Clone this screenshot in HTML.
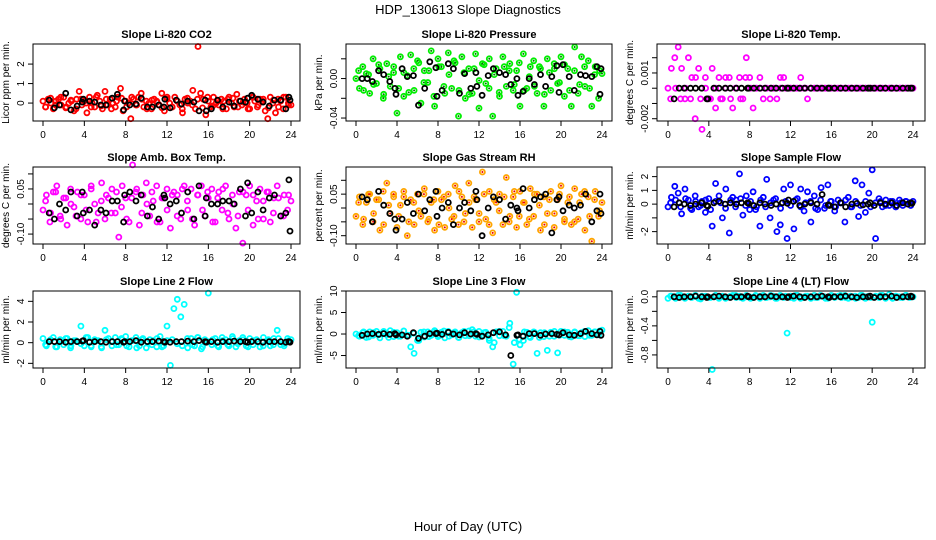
<!DOCTYPE html>
<html><head><meta charset="utf-8"><style>
body{margin:0;background:#fff;}
svg{display:block;font-family:"Liberation Sans",sans-serif;}
</style></head><body>
<svg id="chart" width="936" height="540" xmlns="http://www.w3.org/2000/svg">
<rect width="936" height="540" fill="#fff"/>
<text x="468" y="14" text-anchor="middle" font-size="13">HDP_130613  Slope Diagnostics</text>
<text x="468" y="531" text-anchor="middle" font-size="13">Hour of Day (UTC)</text>
</svg>
<script>
const xTicks=[0,4,8,12,16,20,24];
const blackHours=[0.6,1.1,1.6,2.2,2.7,3.3,3.8,3.9,4.5,5.0,5.6,6.1,6.7,7.2,7.8,7.9,8.4,9.0,9.5,10.1,10.6,11.2,11.7,11.8,12.3,12.9,13.4,14.0,14.6,15.1,15.7,15.8,16.3,16.9,17.4,18.0,18.5,19.1,19.6,19.8,20.2,20.8,21.3,21.9,22.4,23.0,23.5,23.8,23.9];

const co2Color=[0.1,-0.2,0.2,0,-0.3,0.1,0.2,-0.1,0.3,-0.2,0,0.1,-0.4,0.2,0.6,-0.1,0.1,-0.5,0.3,0,-0.2,0.4,0.1,-0.3,0.6,-0.1,0.2,0,-0.2,0.3,0.75,-0.4,0.1,0,-0.8,0.2,-0.1,0.3,0.5,-0.2,0.1,0,-0.3,0.2,0.1,-0.1,0.5,-0.4,0.2,0,-0.2,0.3,0.1,-0.1,-0.5,0.2,0,0.1,0.65,-0.3,2.9,0.5,0.2,-0.6,0.1,-0.2,0.3,0,-0.1,0.2,0.1,-0.3,0.3,0,-0.2,0.45,0.1,-0.1,0.2,0,-0.3,0.3,0.1,-0.2,0.2,0.1,-0.4,-0.8,0.3,0,-0.5,0.2,0.1,-0.3,0.3,0,-0.1];
const co2Band=[-0.2,0.25,-0.1,0.3,-0.25,0.15,-0.3,0.2,0,-0.2,0.3,-0.15,0.2,-0.3,0.1,0.25,-0.2,0.3,-0.1,0.2,-0.3,0.15,0.05,-0.25,0.3,-0.2,0.1,-0.3,0.25,-0.1,0.2,-0.25,0.3,-0.15,0.1,-0.3,0.2,0.25,-0.2,0.05,-0.3,0.3,-0.1,0.2,-0.25,0.15,-0.2,0.3,-0.1];
const co2Black=[0.15,-0.25,-0.1,0.5,-0.35,-0.15,0.05,0.2,0.1,0.05,-0.1,-0.1,0.25,0.45,-0.35,0.1,-0.1,-0.05,0.25,-0.2,-0.2,-0.1,-0.2,0.2,-0.25,0.15,-0.05,0.1,0.05,-0.4,0.15,-0.4,-0.3,0.15,-0.2,0.05,-0.15,0.1,0.05,0.25,0.4,0.2,0.05,-0.15,0.15,0.15,-0.3,0.3,0.15];
const co2Ticks=[0,1,2];

const presColor=[0,-0.01,0.012,0.005,-0.015,0.02,-0.005,0.01,-0.02,0.015,-0.008,0.006,-0.035,0.022,-0.018,0.003,0.024,-0.012,0.018,-0.025,0.008,-0.004,0.028,-0.028,0.02,0.012,-0.015,0.026,-0.01,0.016,-0.038,0.022,-0.02,0.01,-0.015,0.025,-0.03,0.015,-0.005,0.02,-0.038,0.01,-0.018,0.022,-0.008,0.015,-0.012,0.008,-0.028,0.025,-0.01,0.012,0.018,-0.015,0.01,-0.028,0.02,-0.012,0.015,-0.005,0.022,-0.018,0.01,-0.028,0.032,-0.015,0.022,-0.008,0.018,-0.028,0.012,-0.02,0.005];
const presBand=[0.008,-0.012,0.004,-0.006,0.014,-0.016,0.002,0.012,-0.01,0.006,-0.014,0.01,0.016,-0.004,0.008,-0.018,0.012,-0.008,0.004,0.018,-0.012,0.006,-0.016,0.01,-0.002,0.014,-0.01,0.004,-0.014,0.012,0.008,-0.006,0.016,-0.012,0.002,-0.008,0.012,-0.016,0.006,0.01,-0.004,0.014,-0.012,0.008,-0.006,0.012,-0.01,0.004,0.008];
const presBlack=[0,0,-0.003,0.008,0.004,-0.003,-0.01,-0.016,0.01,0.002,0.003,-0.027,-0.01,0.017,0.011,-0.018,-0.012,0.015,0.01,-0.015,0.005,-0.01,0.006,-0.008,-0.017,0.003,0.01,0.006,0.004,-0.006,0,-0.017,-0.013,0,-0.006,0.004,-0.008,0.002,0.013,-0.014,0.014,0.002,-0.012,0.004,0.003,0.002,0.012,-0.016,0.01];
const presTicks=[-0.04,-0.02,0.00,0.02];
const presTickLabels=["-0.04","","0.00",""];

const tempColor=[0,0.0013,0.002,0.0027,0.0013,-0.0007,0.002,0.0007,-0.002,0.0013,-0.0027,0.0007,-0.0007,0.0013,-0.0013,0.0007,-0.0007,0,0.0007,-0.0013,0,0.0007,-0.0007,0.002,0.0007,-0.0013,0,0.0007,-0.0007,0,-0.0007,0,-0.0007,0.0007,0.0007,0,0,0,0,0.0007,0,-0.0007,0,0,0,0,0,0,0,0,0,0,0,0,0,0,0,0,0,0,0,0,0,0,0,0,0,0,0,0,0,0,0];
const tempBand=[-0.0007,0,-0.0007,0,-0.0007,0.0007,-0.0007,0,-0.0007,0,-0.0007,0.0007,-0.0007,0,-0.0007,0.0007,0,0,0,0,0,0,0,0,0,0,0,0,0,0,0,0,0,0,0,0,0,0,0,0,0,0,0,0,0,0,0,0,0];
const tempBlack=[-0.0007,0,0,0,0,0,-0.0007,-0.0007,0,0,0,0,0,0,0,0,0,0,0,0,0,0,0,0,0,0,0,0,0,0,0,0,0,0,0,0,0,0,0,0,0,0,0,0,0,0,0,0,0];
const tempTicks=[-0.002,-0.001,0,0.001,0.002];
const tempTickLabels=["-0.002","","","0.001",""];

const ambColor=[-0.02,0.03,-0.06,0.04,0.06,-0.04,0.02,-0.07,0.05,-0.01,0.04,-0.05,0.03,-0.06,0.06,0,-0.03,0.07,-0.05,0.02,0.05,-0.03,-0.11,0.06,0.02,-0.06,0.13,0.04,-0.07,0.03,0.07,-0.04,0.01,0.06,-0.06,0.02,0.05,-0.08,0.04,0.03,-0.05,0.06,-0.02,0.05,-0.07,0.03,0.06,-0.04,0.02,0.05,-0.06,0.04,-0.02,0.06,-0.05,0.03,-0.08,0.04,-0.13,0.03,0.06,-0.07,0.01,0.05,-0.05,0.04,-0.06,0.02,0.06,-0.04,0.03,-0.02,0.01];
const ambBand=[0.01,-0.03,0.04,-0.05,0.02,0,-0.04,0.03,-0.02,0.05,-0.06,0.01,0.03,-0.03,0.04,-0.01,-0.05,0.02,0.05,-0.03,0,0.04,-0.06,0.02,-0.02,0.03,-0.04,0.05,0.01,-0.05,0.03,-0.02,0.04,-0.06,0.02,0.05,-0.03,0,-0.04,0.04,-0.02,0.03,-0.05,0.01,0.04,-0.03,0.02,-0.04,0.03];
const ambBlack=[-0.03,-0.05,0.00,-0.02,0.04,-0.04,0.04,-0.03,-0.02,-0.07,-0.02,-0.03,0.01,0.01,-0.06,0.03,0.04,0.01,0.03,-0.04,-0.01,-0.05,0.03,0.02,0.00,0.01,-0.03,0.04,-0.05,0.06,-0.04,0.02,0.00,0.00,0.01,0.01,0.00,0.05,-0.04,0.07,-0.03,0.04,-0.02,0.02,0.03,-0.04,-0.03,0.08,-0.09];
const ambTicks=[-0.10,-0.05,0,0.05,0.10];
const ambTickLabels=["-0.10","","","0.05",""];

const rhColor=[-0.03,0.04,-0.06,0.02,0.05,-0.05,0.03,-0.08,0.06,0.09,-0.02,0.05,-0.07,0.01,0.04,-0.1,0.03,-0.06,0.05,-0.03,0.07,-0.05,0.02,-0.08,0.06,0.03,-0.07,0.05,-0.04,0.08,-0.06,0.04,-0.02,0.09,-0.07,0.03,-0.05,0.13,-0.04,0.06,-0.09,0.02,0.05,-0.06,0.11,-0.03,0.04,-0.07,0.06,0.02,-0.06,0.07,-0.03,0.05,-0.08,0.04,-0.02,0.06,-0.07,0.03,0.08,-0.05,0.02,-0.06,0.07,-0.04,0.05,-0.08,0.04,-0.12,0.06,-0.03,0.02];
const rhBand=[0.02,-0.04,0.05,-0.02,0.03,-0.06,0.01,0.04,-0.03,0.06,-0.05,0.02,-0.01,0.05,-0.04,0.03,-0.06,0.04,0,-0.03,0.06,-0.05,0.02,0.04,-0.02,0.05,-0.06,0.03,-0.01,0.04,-0.05,0.06,-0.03,0.02,-0.04,0.05,0.01,-0.06,0.03,-0.02,0.05,-0.04,0.04,-0.05,0.02,0.06,-0.03,0.03,-0.01];
const rhBlack=[0.04,0.03,-0.05,0.06,0.01,-0.02,-0.04,-0.08,-0.04,0.02,-0.02,0.05,-0.01,0.03,0.06,-0.03,0.00,0.02,-0.06,0.00,0.02,-0.01,0.06,0.03,-0.1,0.00,0.04,0.03,-0.04,0.01,0.00,-0.01,0.07,0.00,0.03,0.04,0.05,-0.09,0.03,0.04,-0.01,0.01,0.00,0.01,0.05,-0.05,-0.01,0.05,-0.02];
const rhTicks=[-0.10,-0.05,0,0.05,0.10];
const rhTickLabels=["-0.10","","","0.05",""];

const sampColor=[-0.2,0.5,1.3,0.8,-0.7,1.1,0.3,-0.4,0.6,-0.2,0.2,-0.6,0.4,-1.6,1.5,0.6,-1,1.1,-2.1,0.5,0.3,2.2,-0.8,0.6,-0.4,0.9,-0.2,-1.6,0.5,1.8,-1,0.3,-2,-1.5,1.1,-2.5,1.4,-1.8,0.4,1.1,-0.5,0.9,-1.3,0.6,-0.4,1.2,-0.3,1.4,0.2,-0.5,0.3,0.1,-1.3,0.5,-0.2,1.7,-0.9,1.4,-0.6,0.8,2.5,-2.5,0.4,-0.2,0.3,-0.1,0.2,-0.2,0.3,-0.1,0.2,0.1,0.2];
const sampBand=[0.1,0.3,-0.2,0.4,-0.3,0.2,-0.1,0.3,-0.4,0.2,0.1,-0.3,0.3,-0.2,0.4,-0.1,0.2,-0.4,0.3,-0.2,0.1,0.4,-0.3,0.2,-0.1,0.3,-0.2,0.1,0.2,-0.3,0.3,-0.1,0.2,-0.2,0.1,0.3,-0.2,0.2,-0.1,0.2,-0.2,0.1,0.2,-0.1,0.2,-0.2,0.1,0.2,-0.1];
const sampBlack=[-0.2,0.1,0,-0.1,0,0.1,-0.1,-0.15,0.1,0.2,0,0.1,0,0.1,0.1,0.05,-0.1,0.1,0,-0.1,0,0.1,0.05,0.3,0.2,-0.1,0,0.1,0,0.7,-0.05,-0.1,-0.2,0.1,-0.2,0,0.05,-0.05,0,0.1,-0.1,0.1,0,0.1,-0.1,0.1,0,0.1,0.05];
const sampTicks=[-2,-1,0,1,2];
const sampTickLabels=["-2","","0","1","2"];

const l2Color=[0.4,-0.3,0.2,0.5,-0.4,0.3,-0.2,0.4,-0.5,0.2,0.1,1.6,-0.3,0.5,-0.4,0.3,0.2,-0.5,1.2,0.4,-0.3,0.5,-0.2,0.3,0.6,-0.4,0.2,0.5,-0.3,0.4,-0.5,0.3,0.2,-0.4,0.6,-0.3,1.6,-2.2,3.3,4.2,2.5,3.7,-0.5,0.4,-0.3,0.5,-0.6,0.3,4.8,-0.2,0.4,-0.4,0.5,0.3,-0.3,0.6,-0.4,0.2,0.5,-0.3,0.4,-0.2,0.3,-0.4,0.5,0.2,-0.3,0.4,1.2,-0.2,-0.3,0.4,0.3];
const l2Band=[-0.2,0.3,-0.4,0.1,0.4,-0.3,0.2,-0.1,0.5,-0.3,0.2,-0.4,0.3,0.1,-0.2,0.4,-0.3,0.2,-0.5,0.3,0.1,-0.2,0.4,-0.4,0.2,0.3,-0.1,-0.3,0.4,-0.2,0.5,-0.4,0.1,0.3,-0.3,0.2,-0.2,0.4,-0.1,0.3,-0.4,0.2,0.1,-0.3,0.3,-0.2,0.4,-0.1,0.2];
const l2Black=[0.1,0.1,0.1,0.05,0.1,0.1,0.15,0.2,0.05,0.1,0.1,0.05,0.1,0.1,0.05,0.1,0.1,0.2,0.05,0.1,0.1,0.15,0.1,0.05,0.05,0.1,0.1,0.15,0.1,0.2,0.1,0.05,0.1,0.05,0.1,0.1,0.15,0.1,0.1,0.05,0.1,0.1,0.05,0.1,0.1,0.1,0.05,0.1,0.05];
const l2Ticks=[-2,0,2,4];

const l3Color=[0,-0.5,0.3,-0.8,0.5,-0.3,0.6,-0.9,0.4,-0.2,0.8,-0.6,0.3,-0.5,0.7,-0.4,-3,-4.5,-1.5,0.4,-0.7,0.5,-0.3,0.8,-0.6,0.4,-0.9,0.6,-0.2,0.5,-0.8,0.3,-0.4,0.7,1,-0.5,0.6,-0.3,0.4,-1.5,-3,0.5,-0.4,0.6,-0.5,2.5,-7,9.7,-2.5,-1.5,0.4,-0.8,0.5,-4.5,0.3,-0.6,-3.8,0.4,-0.5,-4.4,0.6,-0.3,0.4,-0.7,0.5,-0.4,0.3,-0.6,0.8,-0.3,0.5,-0.2,0.9];
const l3Band=[-0.4,0.5,-0.7,0.3,-0.2,0.6,-0.8,0.4,-0.5,0.7,-0.3,0.2,-1.5,0.5,-0.6,0.4,-0.3,0.7,-0.5,0.3,-0.8,0.6,-0.4,0.5,-0.7,0.3,-1,-2,0.6,-0.4,1.5,-2,-1.2,0.5,-0.6,0.4,-0.8,0.3,-0.5,0.6,-0.3,0.5,-0.6,0.4,-0.4,0.6,-0.3,0.5,0.7];
const l3Black=[-0.3,0,0.1,-0.1,0.1,-0.1,0.1,-0.2,-0.2,-0.5,0.3,-1,-0.5,0.1,0.1,0.2,-0.1,0.4,0,-0.2,0.3,0,0.1,-0.1,-0.5,-0.2,0.3,0.5,-0.2,-5,-0.3,-0.2,-0.5,0.1,0.1,-0.3,0,0.1,-0.1,-0.2,0.3,-0.2,-0.3,0.1,0.6,0.1,-0.2,0.6,-0.3];
const l3Ticks=[-5,0,5,10];

const l4Color=[-0.02,0.01,-0.01,0.02,0,-0.02,0.01,-0.01,0.02,-0.02,0.01,0,-0.01,-1.0,0.02,-0.02,0.01,-0.01,0,0.02,-0.01,0.01,-0.02,0.02,0,-0.01,0.01,-0.02,0.02,-0.01,0,0.01,-0.02,0.02,-0.01,-0.5,0.01,-0.02,0.02,0,-0.01,0.01,-0.02,0.02,-0.01,0.01,0,-0.02,0.02,-0.01,0.01,-0.01,0.02,-0.02,0,0.01,-0.01,0.02,-0.02,0.01,-0.35,0,-0.01,0.02,-0.01,0.03,-0.02,0.01,0,-0.01,0.02,-0.01,0];
const l4Band=[0.01,-0.02,0.02,-0.01,0,0.02,-0.03,0.01,-0.01,0.02,0,-0.02,0.01,0.02,-0.01,0,-0.02,0.02,0.01,-0.01,0.02,-0.02,0,0.01,-0.01,0.02,-0.02,0.01,0,-0.01,0.02,-0.02,0.01,0,0.02,-0.01,0.01,-0.02,0.02,0,-0.01,0.01,0.02,-0.02,0,0.01,-0.01,0.02,0];
const l4Black=[0,-0.01,0,0,0.01,0,-0.01,0,0,0.01,0,-0.01,0,0,0.01,0,-0.01,0,0,0.01,0,0,-0.01,0,0.01,0,-0.01,0,0,0.01,0,-0.01,0,0,0.01,0,-0.01,0,0,0.01,-0.01,0,0,0.01,-0.01,0,0,0.01,0];
const l4Ticks=[-0.8,-0.6,-0.4,-0.2,0];
const l4TickLabels=["-0.8","","-0.4","","0.0"];

const panels=[
 {name:"co2",title:"Slope Li-820 CO2",ylab:"Licor ppm per min.",col:0,row:0,ymin:-0.92,ymax:3.03,color:"#ff0000",c:co2Color,band:co2Band,b:co2Black,ticks:co2Ticks,labels:null},
 {name:"pressure",title:"Slope Li-820 Pressure",ylab:"kPa per min.",col:1,row:0,ymin:-0.043,ymax:0.035,color:"#00ee00",inner:"#007700",c:presColor,band:presBand,b:presBlack,ticks:presTicks,labels:presTickLabels},
 {name:"temp",title:"Slope Li-820 Temp.",ylab:"degrees C per min.",col:2,row:0,ymin:-0.00215,ymax:0.0029,color:"#ff00ff",c:tempColor,band:tempBand,b:tempBlack,ticks:tempTicks,labels:tempTickLabels},
 {name:"amb-box-temp",title:"Slope Amb. Box Temp.",ylab:"degrees C per min.",col:0,row:1,ymin:-0.133,ymax:0.123,color:"#ff00ff",c:ambColor,band:ambBand,b:ambBlack,ticks:ambTicks,labels:ambTickLabels},
 {name:"gas-stream-rh",title:"Slope Gas Stream RH",ylab:"percent per min.",col:1,row:1,ymin:-0.13,ymax:0.148,color:"#ffa500",inner:"#ee0000",c:rhColor,band:rhBand,b:rhBlack,ticks:rhTicks,labels:rhTickLabels},
 {name:"sample-flow",title:"Slope Sample Flow",ylab:"ml/min per min.",col:2,row:1,ymin:-2.9,ymax:2.7,color:"#0000ff",c:sampColor,band:sampBand,b:sampBlack,ticks:sampTicks,labels:sampTickLabels},
 {name:"line2-flow",title:"Slope Line 2 Flow",ylab:"ml/min per min.",col:0,row:2,ymin:-2.45,ymax:5.0,color:"#00ffff",c:l2Color,band:l2Band,b:l2Black,ticks:l2Ticks,labels:null},
 {name:"line3-flow",title:"Slope Line 3 Flow",ylab:"ml/min per min.",col:1,row:2,ymin:-7.9,ymax:10,color:"#00ffff",c:l3Color,band:l3Band,b:l3Black,ticks:l3Ticks,labels:null},
 {name:"line4-flow",title:"Slope Line 4 (LT) Flow",ylab:"ml/min per min.",col:2,row:2,ymin:-0.98,ymax:0.08,color:"#00ffff",c:l4Color,band:l4Band,b:l4Black,ticks:l4Ticks,labels:l4TickLabels}
];
const colL=[33,346,657],colR=[300,612,925],colX0=[43,356,668],colX24=[291,602,913];
const rowT=[44,167,291],boxH=77;
const NS="http://www.w3.org/2000/svg";
const svg=document.getElementById('chart');
function mk(tag,attrs,parent){const e=document.createElementNS(NS,tag);for(const k in attrs)e.setAttribute(k,attrs[k]);parent.appendChild(e);return e;}

panels.forEach(p=>{
 const L=colL[p.col],R=colR[p.col],T=rowT[p.row],B=T+boxH;
 const xs=h=>colX0[p.col]+(colX24[p.col]-colX0[p.col])*h/24;
 const ys=v=>B-(v-p.ymin)/(p.ymax-p.ymin)*boxH;
 const g=mk('g',{},svg);
 
 
 const t=mk('text',{x:(L+R)/2,y:T-6,'text-anchor':'middle','font-size':11,'font-weight':'bold'},g);
 
 
 t.textContent=p.title;
 const yl=mk('text',{x:0,y:0,'text-anchor':'middle','font-size':10,transform:`translate(${L-24},${(T+B)/2}) rotate(-90)`},g);
 
 
 yl.textContent=p.ylab;
 const pts=mk('g',{fill:'none','stroke-width':1.8},g);
 
 
 const drawSeries=(arr,hourOf,col,inner)=>{
  arr.forEach((v,i)=>{
   const h=hourOf(i);
   const cx=xs(h).toFixed(1),cy=ys(v).toFixed(1);
   const c=mk('circle',{cx:cx,cy:cy,r:2.5,stroke:col},pts);
   
   
   if(inner){const d=mk('circle',{cx:cx,cy:cy,r:1,fill:inner,stroke:'none'},pts);
    
    }
  });
 };
 drawSeries(p.band,i=>0.25+i*0.49,p.color,p.inner);
 drawSeries(p.c,i=>i*24/(p.c.length-1),p.color,p.inner);
 drawSeries(p.b,i=>blackHours[i],'#000');
 const bx=mk('rect',{x:L,y:T,width:R-L,height:boxH,fill:'none',stroke:'#000','stroke-width':1},g);
 
 
 const xa=mk('g',{stroke:'#000','font-size':10},g);
 
 
 mk('line',{x1:xs(0),x2:xs(24),y1:B,y2:B},xa);
 xTicks.forEach(v=>{
  mk('line',{x1:xs(v),x2:xs(v),y1:B,y2:B+5},xa);
  const tl=mk('text',{x:xs(v),y:B+17,'text-anchor':'middle',stroke:'none',fill:'#000'},xa);
  
  
  tl.textContent=v;
 });
 const ya=mk('g',{stroke:'#000','font-size':10},g);
 
 
 const tv=p.ticks.filter(v=>v>=p.ymin-1e-9&&v<=p.ymax+1e-9);
 mk('line',{x1:L,x2:L,y1:ys(tv[0]),y2:ys(tv[tv.length-1])},ya);
 p.ticks.forEach((v,i)=>{
  if(v<p.ymin-1e-9||v>p.ymax+1e-9)return;
  mk('line',{x1:L-5,x2:L,y1:ys(v),y2:ys(v)},ya);
  const lab=p.labels?p.labels[i]:String(v);
  if(lab){const tl=mk('text',{x:0,y:0,'text-anchor':'middle',stroke:'none',fill:'#000',transform:`translate(${L-9},${ys(v)}) rotate(-90)`},ya);
   
   
   tl.textContent=lab;}
 });
});
</script>
</body></html>
